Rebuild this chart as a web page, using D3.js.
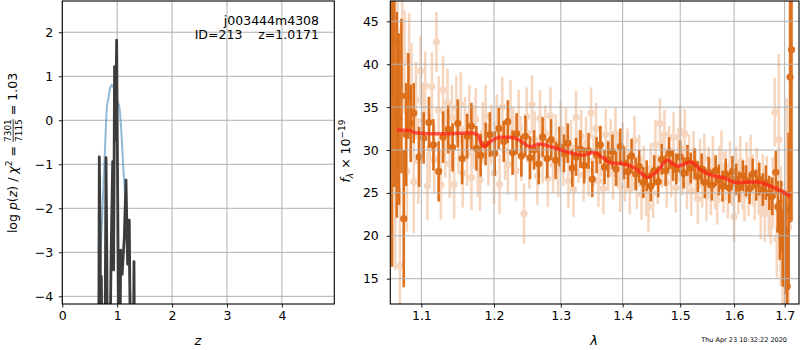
<!DOCTYPE html>
<html>
<head>
<meta charset="utf-8">
<script src="https://cdn.jsdelivr.net/npm/d3@7"></script>
<style>
    body { margin: 0; background: #fff; }
    svg text { font-family: "DejaVu Sans", sans-serif; fill: #000; }
</style>
</head>
<body>
<svg id="fig" width="800" height="350"></svg>
<script>
// p(z) panel
const pzTicksX = [0, 1, 2, 3, 4];
const pzTicksY = [-4, -3, -2, -1, 0, 1, 2];
const pzFit = [[0.655, -4.6], [0.674, -4.0], [0.69, -3.3], [0.717, -2.5], [0.745, -1.6], [0.77, -0.9], [0.81, 0.25],
    [0.84, 0.5], [0.87, 0.72], [0.90, 0.80], [0.93, 0.75], [0.97, 0.6], [1.01, 0.42], [1.045, 0.25], [1.08, -0.35],
    [1.11, -1.05], [1.14, -1.6], [1.17, -2.2], [1.20, -3.0], [1.233, -3.8], [1.265, -4.6]];
const pzChi = [[0.60, -6], [0.662, -6], [0.674, -0.83], [0.69, -2.7], [0.70, -6], [0.712, -3.55], [0.722, -6], [0.775, -6],
    [0.796, -0.85], [0.812, -3.1], [0.822, -6], [0.862, -6], [0.89, -3.0], [0.918, -0.94], [0.935, -3.4], [0.952, 1.22],
    [0.968, -0.45], [0.99, 1.82], [1.003, -0.6], [1.02, -3.78], [1.035, -6], [1.048, -6], [1.063, -2.95], [1.09, -3.5],
    [1.13, -2.65], [1.16, -1.36], [1.19, -3.27], [1.22, -2.27], [1.245, -6], [1.29, -6], [1.306, -3.21], [1.318, -6], [1.40, -6]];

// spectrum panel
const specTicksX = [1.1, 1.2, 1.3, 1.4, 1.5, 1.6, 1.7];
const specTicksY = [15, 20, 25, 30, 35, 40, 45];
// [lambda, flux, err]
const specDark = [
    [1.062, 34.4, 18], [1.065, 42.7, 17], [1.068, 34.1, 12], [1.071, 33.6, 10], [1.074, 36.3, 9], [1.077, 22.0, 8], [1.080, 31.8, 6], [1.083, 36.3, 5], [1.086, 33.1, 4.5],
    [1.090, 34.3, 3.5], [1.097, 29.2, 3.5], [1.103, 31.4, 3], [1.110, 33.2, 3], [1.116, 30.6, 3], [1.123, 27.5, 3.5], [1.129, 31.5, 3], [1.136, 32.4, 2.8], [1.142, 30.3, 2.8], [1.149, 33.1, 2.8],
    [1.155, 29.0, 3], [1.162, 31.6, 2.6], [1.168, 32.8, 2.7], [1.175, 30.2, 2.6], [1.181, 29.4, 2.5], [1.188, 30.7, 2.5], [1.194, 31.8, 2.6], [1.201, 29.6, 2.6], [1.207, 32.5, 2.4], [1.214, 31.0, 2.4],
    [1.220, 33.3, 2.5], [1.227, 29.7, 2.6], [1.233, 31.9, 2.4], [1.240, 29.3, 2.4], [1.246, 31.6, 2.4], [1.253, 29.1, 2.5], [1.259, 30.0, 2.3], [1.266, 28.4, 2.4], [1.272, 31.5, 2.3], [1.279, 29.0, 2.3],
    [1.285, 31.2, 2.4], [1.292, 28.8, 2.2], [1.298, 30.4, 2.3], [1.305, 29.6, 2.2], [1.311, 30.8, 2.3], [1.318, 27.9, 2.2], [1.324, 29.2, 2.2], [1.331, 30.1, 2.2], [1.337, 28.2, 2.1], [1.344, 29.9, 2.1],
    [1.350, 26.6, 2.1], [1.357, 29.4, 2.1], [1.363, 30.6, 2.2], [1.370, 28.0, 2.0], [1.376, 28.9, 2.1], [1.383, 29.8, 2.0], [1.389, 27.8, 2.0], [1.396, 30.4, 2.1], [1.402, 28.5, 1.9], [1.409, 27.5, 1.9],
    [1.415, 29.3, 2.0], [1.422, 27.2, 1.9], [1.428, 28.1, 1.9], [1.435, 26.2, 1.8], [1.441, 27.0, 1.8], [1.448, 25.8, 1.8], [1.454, 27.6, 1.8], [1.461, 26.3, 1.8], [1.467, 28.9, 1.8], [1.474, 27.6, 1.8],
    [1.480, 29.6, 1.9], [1.487, 28.2, 1.8], [1.493, 27.8, 1.8], [1.500, 29.2, 1.9], [1.506, 27.3, 1.8], [1.513, 28.8, 1.8], [1.519, 27.9, 1.8], [1.526, 28.4, 1.8], [1.532, 26.9, 1.8], [1.539, 27.8, 1.8],
    [1.545, 26.2, 1.8], [1.552, 27.4, 1.8], [1.558, 25.9, 1.8], [1.565, 27.6, 1.8], [1.571, 26.5, 1.8], [1.578, 25.8, 1.8], [1.584, 27.2, 1.8], [1.591, 25.6, 1.8], [1.597, 27.5, 1.8], [1.604, 26.6, 1.8],
    [1.610, 25.7, 1.8], [1.617, 27.0, 1.8], [1.623, 26.4, 1.8], [1.630, 25.5, 1.8], [1.636, 27.2, 1.8], [1.643, 25.9, 1.8], [1.649, 26.6, 1.9], [1.656, 25.4, 1.9], [1.662, 26.2, 2.0], [1.669, 25.0, 2.0],
    [1.675, 24.6, 2.2], [1.682, 27.4, 2.5], [1.686, 23.4, 3], [1.690, 20.7, 3.5], [1.693, 22.4, 4], [1.696, 18.6, 4.5], [1.699, 20.4, 5], [1.702, 19.2, 6], [1.705, 14.1, 7], [1.708, 23.0, 9],
    [1.711, 38.5, 17], [1.714, 41.7, 20]
];
const specLight = [
    [1.063, 44.2, 8], [1.066, 28.0, 12], [1.069, 38.4, 10], [1.072, 16.5, 9], [1.075, 44.0, 7], [1.078, 40.3, 6], [1.081, 27.5, 7], [1.084, 41.0, 5], [1.087, 37.5, 5], [1.090, 26.3, 6],
    [1.093, 35.8, 4.5], [1.096, 28.7, 5], [1.099, 39.2, 4], [1.102, 33.4, 4], [1.105, 37.5, 4], [1.108, 25.8, 4], [1.111, 30.2, 4], [1.114, 37.4, 4], [1.117, 28.9, 4], [1.120, 42.6, 3.5],
    [1.123, 34.6, 4], [1.126, 25.9, 4], [1.129, 37.0, 4], [1.132, 30.8, 4], [1.135, 35.5, 4], [1.138, 28.4, 4], [1.141, 33.8, 3.8], [1.144, 26.0, 4], [1.147, 34.9, 3.8], [1.150, 31.2, 4],
    [1.153, 35.3, 3.8], [1.156, 27.3, 4], [1.159, 32.4, 3.8], [1.162, 29.6, 3.8], [1.165, 34.0, 3.6], [1.168, 26.8, 3.8], [1.171, 31.5, 3.7], [1.174, 33.6, 3.6], [1.177, 28.2, 3.7], [1.180, 26.5, 3.6],
    [1.184, 32.0, 3.6], [1.188, 34.0, 3.6], [1.192, 29.4, 3.6], [1.196, 31.8, 3.5], [1.200, 27.3, 3.6], [1.204, 33.0, 3.5], [1.208, 26.0, 3.5], [1.212, 35.0, 3.5], [1.216, 30.0, 3.5], [1.220, 28.3, 3.5],
    [1.224, 34.7, 3.5], [1.228, 31.5, 3.4], [1.232, 27.6, 3.5], [1.236, 33.6, 3.4], [1.240, 29.8, 3.4], [1.244, 22.6, 3.5], [1.248, 33.9, 3.4], [1.252, 28.9, 3.4], [1.256, 35.3, 3.4], [1.260, 31.2, 3.3],
    [1.264, 27.0, 3.4], [1.268, 33.7, 3.3], [1.272, 29.4, 3.3], [1.276, 31.9, 3.3], [1.280, 26.7, 3.3], [1.284, 34.0, 3.3], [1.288, 28.3, 3.3], [1.292, 31.0, 3.2], [1.296, 27.8, 3.3], [1.300, 32.5, 3.2],
    [1.304, 29.0, 3.2], [1.308, 31.7, 3.2], [1.312, 26.4, 3.2], [1.316, 30.3, 3.2], [1.320, 25.4, 3.2], [1.324, 33.8, 3.1], [1.328, 29.3, 3.1], [1.332, 31.6, 3.1], [1.336, 27.1, 3.1], [1.340, 30.8, 3.1],
    [1.344, 27.7, 3.1], [1.348, 34.3, 3.0], [1.352, 28.8, 3.0], [1.356, 32.5, 3.0], [1.360, 26.4, 3.0], [1.364, 29.9, 3.0], [1.368, 25.5, 3.0], [1.372, 31.8, 3.0], [1.376, 28.2, 3.0], [1.380, 30.6, 3.0],
    [1.384, 27.2, 3.0], [1.388, 31.9, 3.0], [1.392, 28.7, 3.0], [1.396, 25.8, 3.0], [1.400, 30.2, 3.0], [1.404, 27.0, 3.0], [1.408, 29.6, 2.9], [1.412, 25.4, 2.9], [1.416, 28.2, 2.9], [1.420, 31.1, 2.9],
    [1.424, 26.0, 2.9], [1.428, 28.9, 2.9], [1.432, 24.8, 2.9], [1.436, 27.6, 2.9], [1.440, 25.2, 2.9], [1.444, 23.4, 2.9], [1.448, 27.9, 2.9], [1.452, 25.0, 2.9], [1.456, 30.6, 2.9], [1.460, 26.6, 2.9],
    [1.464, 33.1, 2.9], [1.468, 28.5, 2.9], [1.472, 31.8, 2.9], [1.476, 26.2, 2.9], [1.480, 29.9, 2.9], [1.484, 27.4, 2.9], [1.488, 31.5, 2.9], [1.492, 25.6, 2.9], [1.496, 29.2, 2.9], [1.500, 32.3, 2.9],
    [1.504, 27.6, 2.9], [1.508, 31.9, 2.9], [1.512, 26.0, 2.9], [1.516, 28.9, 2.9], [1.520, 25.2, 2.9], [1.524, 29.3, 2.9], [1.528, 27.1, 2.9], [1.532, 24.3, 2.9], [1.536, 28.4, 2.9], [1.540, 26.2, 2.9],
    [1.544, 29.0, 2.9], [1.548, 24.6, 2.9], [1.552, 27.5, 2.9], [1.556, 25.3, 2.9], [1.560, 28.7, 2.9], [1.564, 26.0, 2.9], [1.568, 24.2, 2.9], [1.572, 27.6, 2.9], [1.576, 29.4, 2.9], [1.580, 25.6, 2.9],
    [1.584, 27.0, 2.9], [1.588, 24.9, 2.9], [1.592, 28.1, 2.9], [1.596, 26.4, 2.9], [1.600, 22.2, 3.0], [1.604, 27.5, 2.9], [1.608, 25.4, 2.9], [1.612, 28.6, 3.0], [1.616, 26.0, 3.0], [1.620, 24.7, 3.0],
    [1.624, 27.9, 3.0], [1.628, 25.3, 3.0], [1.632, 28.8, 3.0], [1.636, 26.5, 3.0], [1.640, 24.8, 3.0], [1.644, 27.2, 3.1], [1.648, 25.7, 3.1], [1.652, 22.8, 3.2], [1.656, 26.3, 3.2], [1.660, 22.6, 3.3],
    [1.664, 25.9, 3.4], [1.668, 23.3, 3.5], [1.672, 22.7, 3.7], [1.676, 25.0, 4.2], [1.680, 34.4, 4], [1.684, 19.6, 4.5], [1.688, 31.2, 10], [1.692, 21.1, 7], [1.696, 16.2, 8], [1.700, 12.3, 9],
    [1.704, 26.0, 10], [1.708, 21.0, 9]
];
const specModel = [[1.068, 32.3], [1.083, 32.3], [1.092, 32.0], [1.112, 31.9], [1.140, 31.9], [1.166, 32.0], [1.176, 31.8],
    [1.185, 30.4], [1.195, 31.0], [1.209, 31.5], [1.224, 31.5], [1.238, 31.1], [1.253, 30.4], [1.268, 30.7], [1.284, 30.4],
    [1.305, 29.9], [1.336, 29.4], [1.352, 29.7], [1.369, 29.0], [1.380, 28.5], [1.400, 28.4], [1.410, 28.2], [1.425, 27.7],
    [1.442, 26.8], [1.459, 27.5], [1.477, 28.8], [1.495, 28.1], [1.519, 28.6], [1.537, 27.7], [1.556, 27.1], [1.584, 26.7],
    [1.603, 26.2], [1.642, 26.3], [1.682, 25.5], [1.712, 24.6]];

const fitName = 'j003444m4308';
const fitInfo = 'ID=213    z=1.0171';
const stamp = 'Thu Apr 23 10:32:22 2020';

const orange = '#d95f02';
const gridColor = '#b0b0b0';
const fs = 12.5;

let svg = d3.select('#fig');

let xz = d3.scaleLinear().domain([0, 4.955]).range([62.3, 334.3]);
let yz = d3.scaleLinear().domain([-4.175, 2.71]).range([304, 1]);
let xl = d3.scaleLog().domain([1.0598, 1.7294]).range([390.3, 799]);
let yf = d3.scaleLinear().domain([12.05, 47.37]).range([304, 1]);

function add_clip(id, x, y) {
    svg.append('clipPath').attr('id', id).append('rect')
        .attr('x', x.range()[0]).attr('y', y.range()[1])
        .attr('width', x.range()[1] - x.range()[0])
        .attr('height', y.range()[0] - y.range()[1]);
}

function draw_grid(x, y, xt, yt) {
    let g = svg.append('g');
    g.selectAll('.gx').data(xt).enter().append('line')
        .attr('x1', d => x(d)).attr('x2', d => x(d))
        .attr('y1', y.range()[0]).attr('y2', y.range()[1])
        .attr('stroke', gridColor).attr('stroke-width', 1);
    g.selectAll('.gy').data(yt).enter().append('line')
        .attr('y1', d => y(d)).attr('y2', d => y(d))
        .attr('x1', x.range()[0]).attr('x2', x.range()[1])
        .attr('stroke', gridColor).attr('stroke-width', 1);
}

function draw_axes(x, y, xt, yt, xfmt, yfmt, ypad) {
    let gx = svg.append('g').attr('transform', `translate(0,${y.range()[0]})`)
        .call(d3.axisBottom(x).tickValues(xt).tickFormat(xfmt).tickSize(3.5).tickPadding(4));
    let gy = svg.append('g').attr('transform', `translate(${x.range()[0]},0)`)
        .call(d3.axisLeft(y).tickValues(yt).tickFormat(yfmt).tickSize(3.5).tickPadding(ypad));
    [gx, gy].forEach(g => {
        g.select('.domain').remove();
        g.selectAll('line').attr('stroke', '#000').attr('stroke-width', 0.9);
        g.selectAll('text').style('font-size', fs + 'px').attr('fill', '#000');
    });
    svg.append('rect')
        .attr('x', x.range()[0]).attr('y', y.range()[1])
        .attr('width', x.range()[1] - x.range()[0])
        .attr('height', y.range()[0] - y.range()[1])
        .attr('fill', 'none').attr('stroke', '#000').attr('stroke-width', 1.1);
}

// lay out a little math label piece by piece, then centre it
function math_label(cx, cy, parts) {
    let g = svg.append('g').attr('transform', `translate(${cx},${cy}) rotate(-90)`);
    let inner = g.append('g');
    let pos = 0;
    parts.forEach(p => {
        if (p.frac) {
            let num = inner.append('text').attr('x', pos).attr('y', -6.5).style('font-size', p.size + 'px').text(p.frac[0]);
            let den = inner.append('text').attr('x', pos).attr('y', 5).style('font-size', p.size + 'px').text(p.frac[1]);
            let w = Math.max(num.node().getComputedTextLength(), den.node().getComputedTextLength());
            inner.append('line').attr('x1', pos).attr('x2', pos + w).attr('y1', -3.8).attr('y2', -3.8)
                .attr('stroke', '#000').attr('stroke-width', 0.8);
            pos += w;
            return;
        }
        let t = inner.append('text').attr('x', pos).attr('y', p.dy || 0)
            .style('font-size', (p.size || fs) + 'px')
            .style('font-style', p.italic ? 'italic' : 'normal')
            .style('white-space', 'pre')
            .text(p.text);
        pos += t.node().getComputedTextLength();
    });
    inner.attr('transform', `translate(${-pos / 2},0)`);
}

// ---- left panel
add_clip('clipL', xz, yz);
draw_grid(xz, yz, pzTicksX, pzTicksY);

let pzG = svg.append('g').attr('clip-path', 'url(#clipL)');
pzG.append('path').datum(pzFit)
    .attr('d', d3.line().x(d => xz(d[0])).y(d => yz(d[1])).curve(d3.curveMonotoneX))
    .attr('fill', 'none').attr('stroke', '#1f77b4').attr('stroke-opacity', 0.5).attr('stroke-width', 2);
pzG.append('path').datum(pzChi)
    .attr('d', d3.line().x(d => xz(d[0])).y(d => yz(d[1])))
    .attr('fill', 'none').attr('stroke', '#3c3c3c').attr('stroke-width', 2.8).attr('stroke-linejoin', 'round');

draw_axes(xz, yz, pzTicksX, pzTicksY, d3.format('d'), d3.format('d'), 5.5);

svg.append('text').attr('x', 319).attr('y', 25).attr('text-anchor', 'end')
    .style('font-size', fs + 'px').text(fitName);
svg.append('text').attr('x', 319).attr('y', 39).attr('text-anchor', 'end')
    .style('font-size', fs + 'px').style('white-space', 'pre').text(fitInfo);

svg.append('text').attr('x', 198).attr('y', 345).attr('text-anchor', 'middle')
    .style('font-size', '13px').style('font-style', 'italic').text('z');

math_label(17, 153, [
    {text: 'log '}, {text: 'p', italic: true}, {text: '('}, {text: 'z', italic: true}, {text: ') / '},
    {text: 'χ', italic: true}, {text: '2', size: 9, dy: -5}, {text: ' = '},
    {frac: ['7301', '7115'], size: 9}, {text: ' = 1.03'}
]);

// ---- right panel
add_clip('clipR', xl, yf);

let spG = svg.append('g').attr('clip-path', 'url(#clipR)');

function draw_points(data, opacity) {
    let g = spG.append('g').attr('opacity', opacity);
    g.selectAll('line').data(data).enter().append('line')
        .attr('x1', d => xl(d[0])).attr('x2', d => xl(d[0]))
        .attr('y1', d => yf(d[1] - d[2])).attr('y2', d => yf(d[1] + d[2]))
        .attr('stroke', orange).attr('stroke-width', 2.6);
    g.selectAll('circle').data(data).enter().append('circle')
        .attr('cx', d => xl(d[0])).attr('cy', d => yf(d[1])).attr('r', 3.6)
        .attr('fill', orange);
}

draw_points(specLight, 0.25);
draw_points(specDark, 0.88);

// grid sits over the points here, as in the original
draw_grid(xl, yf, specTicksX, specTicksY);

svg.append('path').datum(specModel)
    .attr('clip-path', 'url(#clipR)')
    .attr('d', d3.line().x(d => xl(d[0])).y(d => yf(d[1])).curve(d3.curveMonotoneX))
    .attr('fill', 'none').attr('stroke', '#ff2018').attr('stroke-opacity', 0.72).attr('stroke-width', 3.5);

draw_axes(xl, yf, specTicksX, specTicksY, d3.format('.1f'), d3.format('d'), 8);

svg.append('text').attr('x', 594).attr('y', 345).attr('text-anchor', 'middle')
    .style('font-size', '13px').style('font-style', 'italic').text('λ');

math_label(350, 151, [
    {text: 'f', italic: true}, {text: 'λ', size: 9, dy: 3, italic: true}, {text: ' × 10'},
    {text: '−19', size: 9, dy: -5}
]);

svg.append('text').attr('x', 787).attr('y', 342).attr('text-anchor', 'end')
    .style('font-size', '6.5px').attr('fill', '#222').text(stamp);
</script>
</body>
</html>
